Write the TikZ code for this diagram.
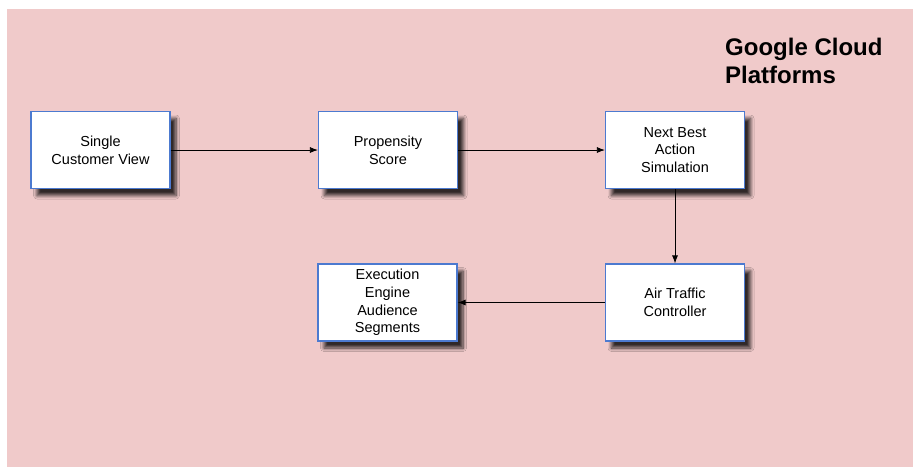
\documentclass[tikz,border=0pt]{standalone}
\usepackage{fontspec}
\setmainfont{Liberation Sans}
\usetikzlibrary{shadows.blur,arrows.meta}
\definecolor{slidepink}{RGB}{240,202,202}
\definecolor{boxblue}{RGB}{76,122,208}
\tikzset{
    stage/.style={draw=boxblue, line width=1.2pt, fill=white, minimum width=139pt, minimum height=77pt,
        inner sep=2pt, align=center, font=\fontsize{14.5}{17.7}\selectfont,
        blur shadow={shadow xshift=6pt, shadow yshift=-7pt, shadow blur radius=3.5pt,
            shadow blur steps=7, shadow opacity=80}},
    flow/.style={-{Latex[length=8pt,width=6pt]}, line width=0.8pt}
}
\begin{document}
\begin{tikzpicture}[x=1pt,y=-1pt]
        \useasboundingbox (0,0) rectangle (913,467);
        \fill[slidepink] (7,9) rectangle (913,467);

        \node[anchor=north west, align=left, inner sep=0pt, font=\bfseries\fontsize{24}{28}\selectfont] (title) at (725,38) {Google Cloud\\Platforms};

        \node[stage] (scv) at (100.5,150) {Single\\Customer View};
        \node[stage] (ps)  at (388,150)   {Propensity\\Score};
        \node[stage] (nba) at (675,150)   {Next Best\\Action\\Simulation};
        \node[stage] (atc) at (675,302.5) {Air Traffic\\Controller};
        \node[stage] (ee)  at (387.5,302.5) {Execution\\Engine\\Audience\\Segments};

        \draw[flow] (scv) -- (ps);
        \draw[flow] (ps) -- (nba);
        \draw[flow] (nba) -- (atc);
        \draw[flow] (atc) -- (ee);
\end{tikzpicture}
\end{document}
